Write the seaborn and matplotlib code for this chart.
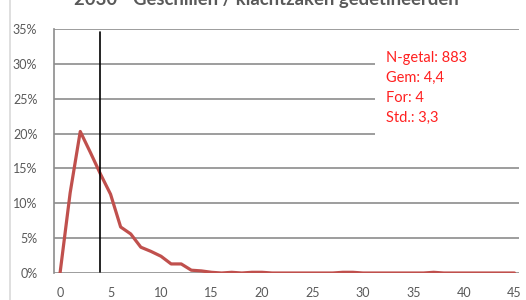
import matplotlib
matplotlib.use("Agg")
import matplotlib.pyplot as plt
import matplotlib.lines as mlines
import seaborn as sns
import pandas as pd

# waarden
dagen = list(range(0, 46))
aandeel = [0.0, 11.5, 20.3, 17.3, 14.2, 11.3, 6.6, 5.6, 3.7, 3.1,
           2.4, 1.3, 1.3, 0.4, 0.3, 0.1, 0.0, 0.1, 0.0, 0.1,
           0.1, 0.0, 0.0, 0.0, 0.0, 0.0, 0.0, 0.0, 0.1, 0.1,
           0.0, 0.0, 0.0, 0.0, 0.0, 0.0, 0.0, 0.1, 0.0, 0.0,
           0.0, 0.0, 0.0, 0.0, 0.0, 0.0]
modus = 4
stats_tekst = ["N-getal: 883", "Gem: 4,4", "For: 4", "Std.: 3,3"]
titel = "2030 - Geschillen / klachtzaken gedetineerden"
yticks = [0, 5, 10, 15, 20, 25, 30, 35]
xticks = [0, 5, 10, 15, 20, 25, 30, 35, 40, 45]

df = pd.DataFrame({"dag": dagen, "pct": aandeel})

sns.set_style("white")
plt.rcParams['font.family'] = ['Lato', 'DejaVu Sans']

fig = plt.figure(figsize=(5.26, 3.0), dpi=100)
ax = fig.add_axes([54/526, 27/300, (519-54)/526, (272-28)/300])

grijs = "#595959"
for y in yticks:
    ax.axhline(y, color="#8c8c8c", linewidth=1.2, zorder=1)

sns.lineplot(data=df, x="dag", y="pct", color="#C0504D", linewidth=2.3, ax=ax, zorder=3)
ax.plot([modus, modus], [0.2, 34.5], color="black", linewidth=1.2, zorder=4)

ax.set_xlim(-0.6, 45.45)
ax.set_ylim(0, 35)
ax.set_yticks(yticks)
ax.set_yticklabels([f"{y}%" for y in yticks])
ax.set_xticks(xticks)
ax.set_xlabel("")
ax.set_ylabel("")
ax.tick_params(axis="both", length=0, labelsize=9, colors=grijs, pad=10)
ax.tick_params(axis="y", pad=12)
for s in ["top", "right", "bottom"]:
    ax.spines[s].set_visible(False)
ax.spines["left"].set_color("#8c8c8c")
ax.spines["left"].set_linewidth(1.2)

# tekstvak met witte achtergrond
ax.add_patch(plt.Rectangle((31.2, 15.6), 14.3, 18.2, facecolor="white",
                           edgecolor="none", zorder=5))
for i, t in enumerate(stats_tekst):
    ax.text(32.3, 30.8 - i * 2.85, t, color="#FF2020", fontsize=10.5,
            va="center", ha="left", zorder=6)

# titel valt in het origineel deels buiten beeld
fig.text(0.507, 1.003, titel, ha="center", va="center", fontsize=13.3,
         fontweight="bold", color=grijs)
fig.add_artist(mlines.Line2D([10/526, 10/526], [0, 1], color="#d9d9d9",
                             linewidth=1.2, transform=fig.transFigure))

fig.savefig("out.png", dpi=100)
